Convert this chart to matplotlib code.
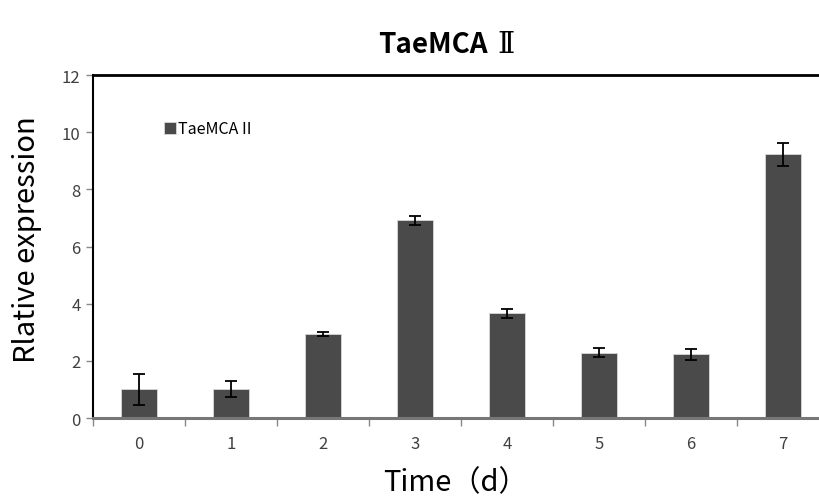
import matplotlib.pyplot as plt
import numpy as np

plt.rcParams['font.family'] = ['Noto Sans CJK SC', 'DejaVu Sans']

# data
days = ['0', '1', '2', '3', '4', '5', '6', '7']
expression = [1.0, 1.0, 2.95, 6.92, 3.66, 2.28, 2.23, 9.22]
errors = [0.55, 0.28, 0.07, 0.16, 0.15, 0.16, 0.2, 0.4]
yticks = [0, 2, 4, 6, 8, 10, 12]

fig = plt.figure(figsize=(8.19, 5.02), dpi=100)
ax = fig.add_axes([93/819, 1-419/502, 736/819, 343/502])

x = np.arange(len(days))
ax.bar(x, expression, width=0.4, color='#4a4a4a', edgecolor='#d8d8d8', linewidth=0.6,
       yerr=errors, capsize=4, error_kw=dict(ecolor='black', elinewidth=1.3, capthick=1.3),
       label='TaeMCA II', zorder=2)

ax.set_xlim(-0.5, len(days) - 0.5)
ax.set_ylim(0, 12)
ax.set_yticks(yticks)
ax.set_xticks(np.arange(len(days) + 1) - 0.5)
ax.set_xticklabels([])
ax.set_xticks(x, minor=True)
ax.set_xticklabels(days, minor=True)
ax.tick_params(axis='x', which='minor', length=0, pad=12, labelsize=12, labelcolor='#404040')
ax.tick_params(axis='x', which='major', length=6, width=1, color='#888888', direction='out')
ax.tick_params(axis='y', length=5, width=1, color='#888888', labelsize=12, labelcolor='#404040', pad=4)

ax.spines['right'].set_visible(False)
ax.spines['top'].set_linewidth(2)
ax.spines['top'].set_color('black')
ax.spines['left'].set_linewidth(1.5)
ax.spines['left'].set_color('black')
ax.spines['bottom'].set_linewidth(2.2)
ax.spines['bottom'].set_color('#777777')

fig.text(27/819, 1-240/502, 'Rlative expression', fontsize=21, rotation=90, ha='center', va='center')
fig.text(455/819, 1-483/502, 'Time（d）', fontsize=21, ha='center', va='center')

t1 = fig.text(378/819, 1-45/502, 'TaeMCA', fontsize=20, fontweight='bold', ha='left', va='center')
ax.annotate('Ⅱ', xy=(1, 0.5), xycoords=t1, xytext=(10, 0), textcoords='offset pixels',
            fontsize=21, family=['DejaVu Serif'], ha='left', va='center', annotation_clip=False)

leg = ax.legend(loc='upper left', bbox_to_anchor=(0.081, 0.9), frameon=False, fontsize=11.5,
                handlelength=0.75, handleheight=0.75, handletextpad=0.15, borderpad=0.2)

fig.savefig('out.png', dpi=100)
